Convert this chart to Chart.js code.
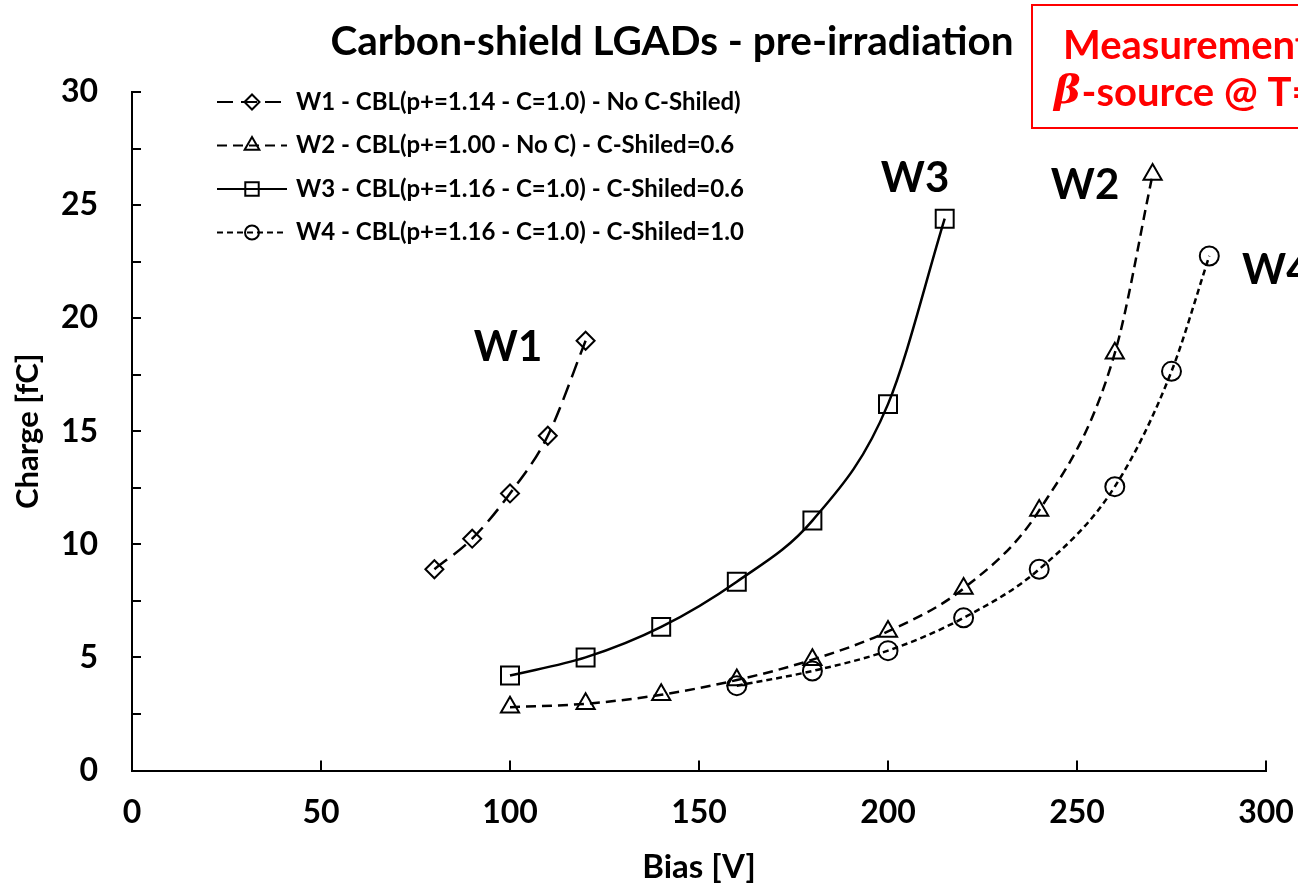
<!DOCTYPE html>
<html>
<head>
<meta charset="utf-8">
<script src="https://cdn.jsdelivr.net/npm/chart.js@4.4.0/dist/chart.umd.min.js"></script>
<style>
  html, body { margin: 0; padding: 0; background: #ffffff; }
  #wrap { width: 1298px; height: 889px; position: relative; }
</style>
</head>
<body>
<div id="wrap"><canvas id="chart" width="1298" height="889"></canvas></div>
<script>
// Collected charge vs. bias for four carbon-shield LGAD wafers
const biasW1 = [80, 90, 100, 110, 120];
const chargeW1 = [8.9, 10.25, 12.25, 14.8, 19.0];

const biasW2 = [100, 120, 140, 160, 180, 200, 220, 240, 260, 270];
const chargeW2 = [2.8, 2.95, 3.35, 4.0, 4.9, 6.15, 8.05, 11.5, 18.45, 26.35];

const biasW3 = [100, 120, 140, 160, 180, 200, 215];
const chargeW3 = [4.2, 5.0, 6.35, 8.35, 11.05, 16.2, 24.4];

const biasW4 = [160, 180, 200, 220, 240, 260, 275, 285];
const chargeW4 = [3.75, 4.4, 5.3, 6.75, 8.9, 12.55, 17.65, 22.75];

const seriesNames = [
  'W1 - CBL(p+=1.14 - C=1.0) - No C-Shiled)',
  'W2 - CBL(p+=1.00 - No C) - C-Shiled=0.6',
  'W3 - CBL(p+=1.16 - C=1.0) - C-Shiled=0.6',
  'W4 - CBL(p+=1.16 - C=1.0) - C-Shiled=1.0'
];
const seriesTags = ['W1', 'W2', 'W3', 'W4'];

const xRange = [0, 300];
const xStep = 50;
const yRange = [0, 30];
const yStep = 5;
const yMinorStep = 2.5;

const titleText = 'Carbon-shield LGADs - pre-irradiation';
const boxLines = ['Measurement', '-source @ T='];
const xTitle = 'Bias [V]';
const yTitle = 'Charge [fC]';

const FONT = 'Lato, "Open Sans", sans-serif';

function toPoints(xs, ys) {
  return xs.map((x, i) => ({ x: x, y: ys[i] }));
}

const styles = [
  { pointStyle: 'rectRot', radius: 9, dash: [16, 8], legendRadius: 7.5 },
  { pointStyle: 'triangle', radius: 10.5, dash: [10, 6], legendRadius: 8.5 },
  { pointStyle: 'rect', radius: 12.7, dash: [], legendRadius: 9.5 },
  { pointStyle: 'circle', radius: 9.5, dash: [6, 4], legendRadius: 7 }
];

const seriesData = [
  toPoints(biasW1, chargeW1),
  toPoints(biasW2, chargeW2),
  toPoints(biasW3, chargeW3),
  toPoints(biasW4, chargeW4)
];

const datasets = seriesData.map((pts, i) => ({
  label: seriesNames[i],
  data: pts,
  borderColor: '#000000',
  borderWidth: 2.5,
  borderDash: styles[i].dash,
  cubicInterpolationMode: 'monotone',
  fill: false,
  pointStyle: styles[i].pointStyle,
  pointRadius: styles[i].radius,
  pointHoverRadius: styles[i].radius,
  pointBorderWidth: 2,
  pointBorderColor: '#000000',
  pointBackgroundColor: 'rgba(0,0,0,0)'
}));

// Inward tick marks, legend block, title, info box and curve tags
const decorations = {
  id: 'decorations',
  afterDraw(chart) {
    const { ctx, chartArea, scales } = chart;
    const xs = scales.x, ys = scales.y;
    ctx.save();

    // tick marks pointing into the plot
    ctx.strokeStyle = '#000';
    ctx.lineWidth = 2;
    ctx.setLineDash([]);
    ctx.beginPath();
    for (let v = yRange[0] + yMinorStep; v <= yRange[1] + 1e-9; v += yMinorStep) {
      const py = Math.round(ys.getPixelForValue(v));
      ctx.moveTo(chartArea.left, py);
      ctx.lineTo(chartArea.left + 9, py);
    }
    for (let v = xRange[0] + xStep; v <= xRange[1] + 1e-9; v += xStep) {
      const px = Math.round(xs.getPixelForValue(v));
      ctx.moveTo(px, chartArea.bottom);
      ctx.lineTo(px, chartArea.bottom - 10);
    }
    ctx.stroke();

    // legend
    const legendX0 = 217, legendX1 = 287, legendMarkX = 252, legendTextX = 296;
    const legendY0 = 102, legendDY = 43.5;
    chart.data.datasets.forEach((ds, i) => {
      const y = legendY0 + i * legendDY;
      ctx.lineWidth = 2;
      ctx.strokeStyle = '#000';
      ctx.setLineDash(styles[i].dash);
      ctx.beginPath();
      ctx.moveTo(legendX0, y);
      ctx.lineTo(legendX1, y);
      ctx.stroke();
      ctx.setLineDash([]);
      ctx.fillStyle = 'rgba(0,0,0,0)';
      Chart.helpers.drawPoint(ctx, {
        pointStyle: styles[i].pointStyle,
        radius: styles[i].legendRadius,
        borderWidth: 2,
        rotation: 0
      }, legendMarkX, y);
      ctx.fillStyle = '#000';
      ctx.font = 'bold 24px ' + FONT;
      ctx.textAlign = 'left';
      ctx.textBaseline = 'middle';
      ctx.fillText(ds.label, legendTextX, y);
    });

    // chart title
    ctx.fillStyle = '#000';
    ctx.font = 'bold 40.5px ' + FONT;
    ctx.textAlign = 'center';
    ctx.textBaseline = 'middle';
    ctx.fillText(titleText, 672, 42);

    // info box (runs off the right edge)
    ctx.strokeStyle = '#ff0000';
    ctx.lineWidth = 2;
    ctx.strokeRect(1032, 5, 400, 123);
    ctx.fillStyle = '#ff0000';
    ctx.textAlign = 'left';
    ctx.font = 'bold 40px ' + FONT;
    ctx.fillText(boxLines[0], 1063, 46);
    ctx.font = 'italic bold 40px "DejaVu Serif", serif';
    ctx.fillText('\u03B2', 1054, 93);
    const bw = ctx.measureText('\u03B2').width;
    ctx.font = 'bold 40px ' + FONT;
    ctx.fillText(boxLines[1], 1054 + bw + 1, 93);

    // curve tags
    ctx.fillStyle = '#000';
    ctx.font = 'bold 42px ' + FONT;
    const tagPos = [[508, 347], [1085, 185], [915, 178], [1242, 270]];
    seriesTags.forEach((t, i) => {
      ctx.textAlign = i === 3 ? 'left' : 'center';
      ctx.fillText(t, tagPos[i][0], tagPos[i][1]);
    });

    ctx.restore();
  }
};

new Chart(document.getElementById('chart'), {
  type: 'line',
  data: { datasets: datasets },
  options: {
    responsive: false,
    animation: false,
    events: [],
    layout: { padding: { left: 0, right: 32, top: 92, bottom: 0 } },
    plugins: {
      legend: { display: false },
      title: { display: false },
      tooltip: { enabled: false }
    },
    scales: {
      x: {
        type: 'linear',
        min: xRange[0],
        max: xRange[1],
        afterFit(scale) {
          scale.height = 118.5;
          scale.paddingLeft = 0;
          scale.paddingRight = 0;
        },
        ticks: {
          stepSize: xStep,
          color: '#000',
          padding: 23,
          maxRotation: 0,
          font: { family: FONT, size: 32, weight: 'bold' }
        },
        grid: { display: true, drawOnChartArea: false, drawTicks: false, color: '#000' },
        border: { display: true, color: '#000', width: 2 },
        title: {
          display: true,
          text: xTitle,
          color: '#000',
          padding: { top: 0, bottom: 2 },
          font: { family: FONT, size: 33, weight: 'bold' }
        }
      },
      y: {
        type: 'linear',
        min: yRange[0],
        max: yRange[1],
        afterFit(scale) {
          scale.width = 132;
          scale.paddingTop = 0;
          scale.paddingBottom = 0;
        },
        ticks: {
          stepSize: yStep,
          color: '#000',
          padding: 34,
          font: { family: FONT, size: 32, weight: 'bold' }
        },
        grid: { display: true, drawOnChartArea: false, drawTicks: false, color: '#000' },
        border: { display: true, color: '#000', width: 2 },
        title: {
          display: true,
          text: yTitle,
          color: '#000',
          padding: { top: 9, bottom: 0 },
          font: { family: FONT, size: 31, weight: 'bold' }
        }
      }
    }
  },
  plugins: [decorations]
});
</script>
</body>
</html>
